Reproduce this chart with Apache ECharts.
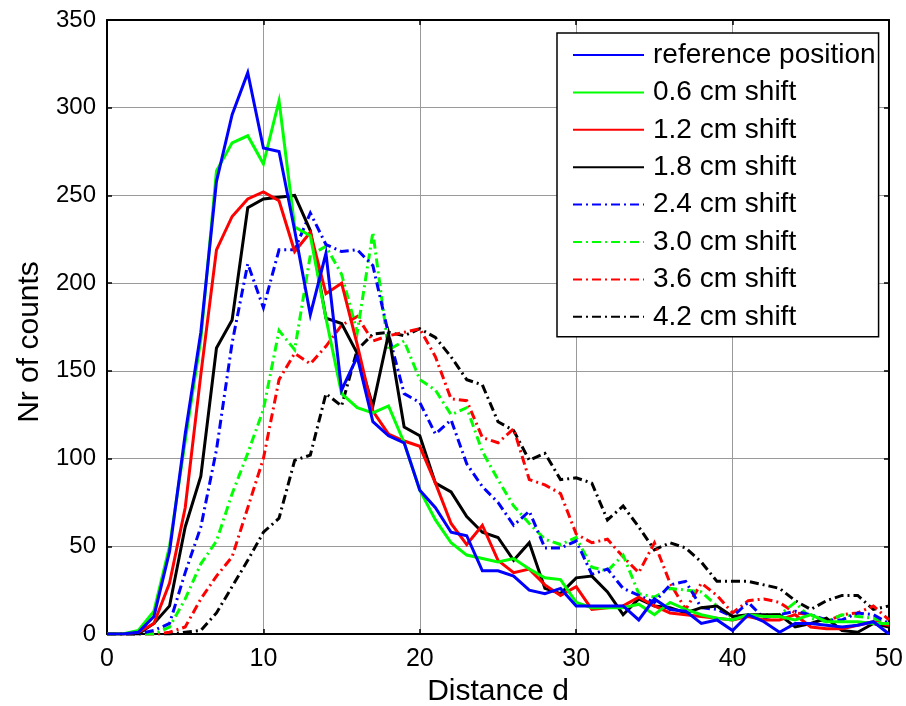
<!DOCTYPE html>
<html>
<head>
<meta charset="utf-8">
<script src="https://cdn.jsdelivr.net/npm/echarts@6/dist/echarts.min.js"></script>
<style>
  html, body { margin: 0; padding: 0; background: #fff; }
  #chart { width: 906px; height: 706px; }
</style>
</head>
<body>
<div id="chart"></div>
<script>
// Distance values d (bin index)
const distance = [0,1,2,3,4,5,6,7,8,9,10,11,12,13,14,15,16,17,18,19,20,21,22,23,24,25,26,27,28,29,30,31,32,33,34,35,36,37,38,39,40,41,42,43,44,45,46,47,48,49,50];

// Counts per distance bin for each source position
const refPosition = [0,0,1,10,47,114,172,258,296,320,277,275,230,182,217,139,158,121,113,109,82,72,58,56,36,36,33,25,23,26,16,16,16,16,8,20,14,13,6,8,2,11,7,1,6,6,5,4,5,7,0];
const shift06 = [0,0,2,13,50,110,168,264,280,284,268,304,232,227,180,137,129,126,130,109,82,65,52,45,43,41,43,37,32,31,18,15,15,15,17,11,18,14,11,9,8,11,10,10,8,11,7,7,7,6,6];
const shift12 = [0,0,1,6,29,72,148,219,238,248,252,247,218,229,194,200,165,127,114,110,107,86,63,51,62,42,35,37,28,22,27,14,15,16,21,16,12,11,10,9,8,10,8,8,11,4,3,3,5,7,5];
const shift18 = [0,0,0,6,16,61,90,163,179,243,248,249,250,230,180,177,160,130,171,118,113,86,81,67,58,55,42,52,26,23,32,33,24,11,20,16,15,12,15,16,10,11,11,11,4,6,9,2,1,6,4];
const shift24 = [0,0,0,2,6,35,61,105,166,211,186,219,219,240,222,218,219,210,171,137,132,114,122,97,84,75,62,70,49,49,53,34,37,26,22,18,28,30,15,14,10,18,9,11,13,11,8,8,12,11,6];
const shift30 = [0,0,0,0,4,20,40,53,80,103,128,173,162,216,221,205,172,229,162,167,145,139,125,129,104,88,73,63,54,51,55,38,36,45,23,21,26,25,24,16,9,10,11,11,18,9,7,11,10,9,5];
const shift36 = [0,0,0,0,1,4,20,33,44,72,100,145,160,154,164,176,181,167,170,172,174,158,134,133,112,109,117,88,85,80,57,52,54,44,35,52,29,14,29,22,12,19,20,18,12,11,7,11,12,16,8];
const shift42 = [0,0,0,0,0,1,2,12,27,42,58,66,99,102,137,130,162,171,172,170,174,169,158,145,142,121,116,99,103,88,89,86,65,73,61,48,52,49,41,30,30,30,28,26,19,14,19,22,22,14,16];

const seriesNames = ['reference position','0.6 cm shift','1.2 cm shift','1.8 cm shift','2.4 cm shift','3.0 cm shift','3.6 cm shift','4.2 cm shift'];
const seriesValues = [refPosition, shift06, shift12, shift18, shift24, shift30, shift36, shift42];
const seriesColors = ['#0000ff','#00ff00','#ff0000','#000000','#0000ff','#00ff00','#ff0000','#000000'];
const dashDot = [9, 4, 2, 4];

const series = seriesValues.map((vals, i) => ({
  name: seriesNames[i],
  type: 'line',
  data: distance.map((d, k) => [d, vals[k]]),
  showSymbol: false,
  symbol: 'none',
  animation: false,
  z: 10 - i,
  lineStyle: {
    color: seriesColors[i],
    width: 3,
    type: i < 4 ? 'solid' : dashDot,
    cap: 'butt',
    join: 'miter'
  },
  itemStyle: { color: seriesColors[i] }
}));

const tickFont = 'Liberation Sans, Arial, sans-serif';

const chart = echarts.init(document.getElementById('chart'), null, { renderer: 'canvas' });
chart.setOption({
  backgroundColor: '#ffffff',
  animation: false,
  grid: { left: 107, right: 17, top: 20, bottom: 72, show: false, containLabel: false, outerBoundsMode: 'none' },
  xAxis: [{
    type: 'value', min: 0, max: 50, interval: 10,
    name: 'Distance d', nameLocation: 'middle', nameGap: 37,
    nameTextStyle: { fontFamily: tickFont, fontSize: 30, color: '#000' },
    axisLine: { onZero: false, lineStyle: { color: '#000', width: 2 } },
    axisTick: { inside: true, length: 5, lineStyle: { color: '#000', width: 1.5 } },
    axisLabel: { fontFamily: tickFont, fontSize: 25, color: '#000', margin: 13 },
    splitLine: { show: true, lineStyle: { color: '#9a9a9a', width: 1 } }
  }, {
    type: 'value', min: 0, max: 50, interval: 10, position: 'top',
    axisLine: { onZero: false, lineStyle: { color: '#000', width: 2 } },
    axisTick: { inside: true, length: 5, lineStyle: { color: '#000', width: 1.5 } },
    axisLabel: { show: false }, splitLine: { show: false }
  }],
  yAxis: [{
    type: 'value', min: 0, max: 350, interval: 50,
    name: 'Nr of counts', nameLocation: 'middle', nameGap: 62,
    nameTextStyle: { fontFamily: tickFont, fontSize: 30, color: '#000', padding: [0, 30, 0, 0] },
    axisLine: { show: true, onZero: false, lineStyle: { color: '#000', width: 2 } },
    axisTick: { show: true, inside: true, length: 5, lineStyle: { color: '#000', width: 1.5 } },
    axisLabel: { fontFamily: tickFont, fontSize: 24, color: '#000', margin: 11 },
    splitLine: { show: true, lineStyle: { color: '#9a9a9a', width: 1 } }
  }, {
    type: 'value', min: 0, max: 350, interval: 50, position: 'right',
    axisLine: { show: true, onZero: false, lineStyle: { color: '#000', width: 2 } },
    axisTick: { show: true, inside: true, length: 5, lineStyle: { color: '#000', width: 1.5 } },
    axisLabel: { show: false }, splitLine: { show: false }
  }],
  legend: {
    orient: 'vertical',
    left: 557, top: 33,
    padding: [8, 3, 6, 15],
    itemGap: 9.4,
    itemWidth: 71,
    itemHeight: 10,
    backgroundColor: '#fff',
    borderColor: '#000',
    borderWidth: 1.5,
    borderRadius: 0,
    itemStyle: { color: 'rgba(0,0,0,0)', borderWidth: 0, opacity: 0 },
    textStyle: { fontFamily: tickFont, fontSize: 28, color: '#000', padding: [0, 0, 0, 4] },
    data: seriesNames,
    z: 20
  },
  series: series
});
</script>
</body>
</html>
